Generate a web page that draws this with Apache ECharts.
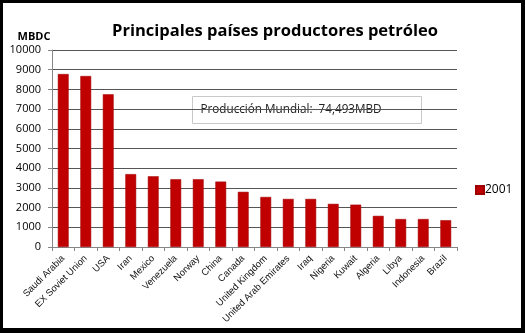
<!DOCTYPE html>
<html><head><meta charset="utf-8">
<script src="https://cdn.jsdelivr.net/npm/echarts@6/dist/echarts.min.js"></script>
<style>
html,body{margin:0;padding:0;background:#fff;}
#wrap{position:relative;width:525px;height:333px;}
#c{position:absolute;left:0;top:0;width:525px;height:333px;}
#frame{position:absolute;left:0;top:0;width:525px;height:333px;box-sizing:border-box;border-style:solid;border-color:#000;border-width:3px 4px 5px 3px;pointer-events:none;}
</style></head>
<body><div id="wrap"><div id="c"></div><div id="frame"></div></div>
<script>
const categories = ["Saudi Arabia","EX Soviet Union","USA","Iran","Mexico","Venezuela","Norway","China","Canada","United Kingdom","United Arab Emirates","Iraq","Nigeria","Kuwait","Algeria","Libya","Indonesia","Brazil"];
const values2001 = [8780,8680,7750,3700,3590,3440,3440,3320,2800,2540,2440,2440,2190,2150,1580,1420,1420,1360];
const seriesName = "2001";
const titleText = "Principales países productores petróleo";
const yAxisName = "MBDC";
const noteText = "Producción Mundial:  74,493MBD";

const chart = echarts.init(document.getElementById('c'), null, {renderer:'canvas'});
const F = "'Open Sans', 'Liberation Sans', sans-serif";
const FL = "'Liberation Sans', sans-serif";
chart.setOption({
  backgroundColor:'#fff',
  animation:false,
  title:{text:titleText,left:270,textAlign:'center',top:18,textStyle:{fontFamily:F,fontWeight:'bold',fontSize:16.5,color:'#000'}},
  legend:{left:470,top:179,orient:'vertical',itemWidth:8,itemHeight:8,itemGap:4,icon:'rect',
    textStyle:{fontFamily:F,fontSize:12,color:'#000',padding:[0,0,0,-4]},data:[seriesName]},
  grid:{left:52,right:68,top:50,bottom:86,containLabel:false},
  xAxis:{type:'category',data:categories,
    axisLine:{lineStyle:{color:'#868686',width:1}},
    axisTick:{show:true,alignWithLabel:false,length:4,lineStyle:{color:'#868686'}},
    axisLabel:{rotate:45,interval:0,fontFamily:FL,fontSize:9.5,color:'#111',margin:10}},
  yAxis:{type:'value',min:0,max:10000,interval:1000,
    name:yAxisName,nameLocation:'end',nameGap:8,
    nameTextStyle:{fontFamily:F,fontWeight:'bold',fontSize:11,color:'#000',align:'center',padding:[0,0,0,-36]},
    axisLine:{show:true,lineStyle:{color:'#868686'}},
    axisTick:{show:true,length:4,lineStyle:{color:'#868686'}},
    axisLabel:{fontFamily:F,fontSize:11,color:'#000',margin:11,formatter:function(v){return String(v);}},
    splitLine:{lineStyle:{color:'#555',width:1}}},
  series:[{name:seriesName,type:'bar',data:values2001,barCategoryGap:'52%',
    itemStyle:{color:'#C00000',borderColor:'#A00000',borderWidth:0.5}}],
  graphic:[{type:'group',left:192,top:96,children:[
    {type:'rect',shape:{x:0,y:0,width:229,height:27},style:{fill:'#fff',stroke:'#c8c8c8',lineWidth:1}},
    {type:'text',x:8,y:13.5,style:{text:noteText,fontFamily:F,fontSize:11.7,fill:'#222',verticalAlign:'middle'}}
  ]}]
});
</script></body></html>
